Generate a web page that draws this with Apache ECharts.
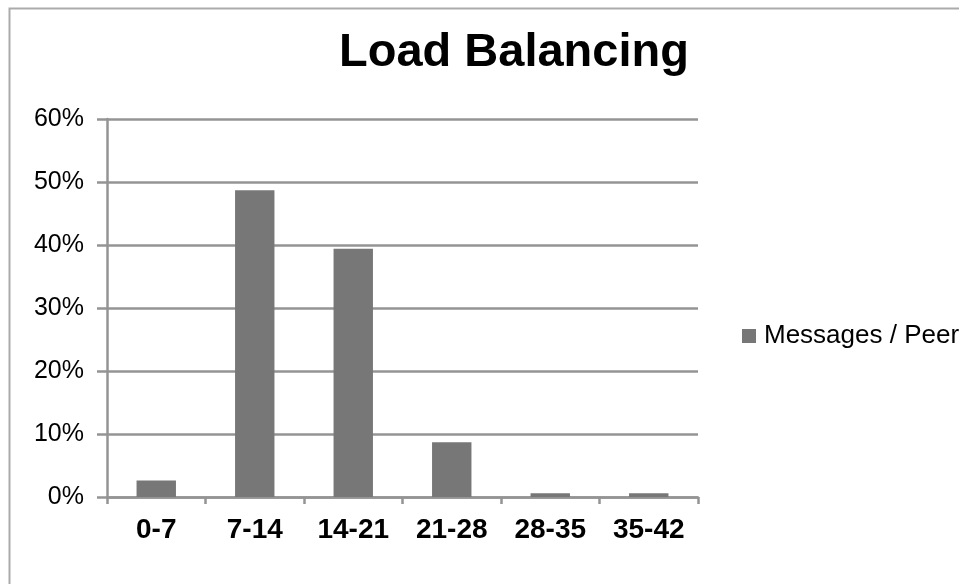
<!DOCTYPE html>
<html>
<head>
<meta charset="utf-8">
<script src="https://cdn.jsdelivr.net/npm/echarts@6/dist/echarts.min.js"></script>
<style>
  html, body { margin: 0; padding: 0; background: #fff; }
  #chart { width: 959px; height: 584px; }
</style>
</head>
<body>
<div id="chart"></div>
<script>
// message load per peer, share of peers in each bucket
const categories = ['0-7', '7-14', '14-21', '21-28', '28-35', '35-42'];
const seriesName = 'Messages / Peer';
const values = [2.6, 48.7, 39.4, 8.7, 0.6, 0.6];
const yTicks = [0, 10, 20, 30, 40, 50, 60];

const font = 'Liberation Sans, Arial, Helvetica, sans-serif';
const axisGray = '#949494';

const chart = echarts.init(document.getElementById('chart'));
chart.setOption({
  animation: false,
  title: {
    text: 'Load Balancing',
    left: 339,
    top: 30,
    padding: 0,
    textStyle: {
      color: '#000',
      fontFamily: font,
      fontWeight: 'bold',
      fontSize: 47
    }
  },
  legend: {
    data: [seriesName],
    left: 742,
    top: 323,
    padding: 0,
    icon: 'rect',
    itemWidth: 14,
    itemHeight: 14,
    textStyle: {
      color: '#000',
      fontFamily: font,
      fontSize: 26,
      padding: [0, 0, 0, 3]
    }
  },
  grid: {
    left: 107,
    right: 261,
    top: 119,
    bottom: 87,
    containLabel: false
  },
  xAxis: {
    type: 'category',
    data: categories,
    axisLine: { lineStyle: { color: axisGray, width: 2.5 } },
    axisTick: { show: true, length: 7, lineStyle: { color: axisGray, width: 2.5 } },
    axisLabel: {
      color: '#000',
      fontFamily: font,
      fontWeight: 'bold',
      fontSize: 28,
      margin: 19
    },
    splitLine: { show: false }
  },
  yAxis: {
    type: 'value',
    min: yTicks[0],
    max: yTicks[yTicks.length - 1],
    interval: 10,
    axisLine: { show: true, lineStyle: { color: axisGray, width: 2.5 } },
    axisTick: { show: true, length: 10, lineStyle: { color: axisGray, width: 2.5 } },
    axisLabel: {
      color: '#000',
      fontFamily: font,
      fontSize: 25,
      margin: 23,
      formatter: v => v + '%'
    },
    splitLine: { show: true, lineStyle: { color: axisGray, width: 2.5 } }
  },
  series: [{
    name: seriesName,
    type: 'bar',
    data: values,
    barWidth: '40%',
    itemStyle: { color: '#777777' }
  }],
  graphic: [{
    type: 'rect',
    left: 7,
    top: 6,
    shape: { width: 1000, height: 700 },
    style: { fill: 'none', stroke: '#ababab', lineWidth: 2 },
    silent: true
  }]
});
</script>
</body>
</html>
